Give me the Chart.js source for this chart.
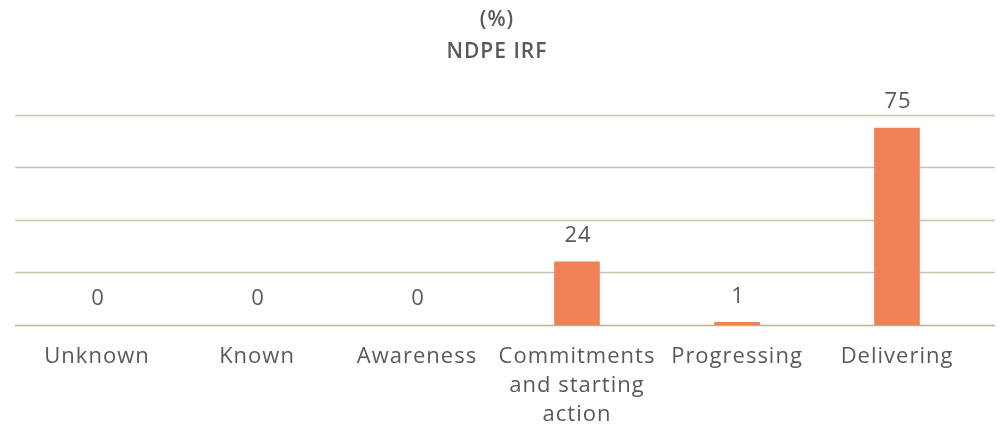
<!DOCTYPE html>
<html>
<head>
<meta charset="utf-8">
<script src="https://cdn.jsdelivr.net/npm/chart.js@4"></script>
<style>
  html, body { margin: 0; padding: 0; background: #fff; }
  #wrap { width: 1000px; height: 425px; }
</style>
</head>
<body>
<div id="wrap"><canvas id="chart"></canvas></div>
<script>
const titleLines = ['(%)', 'NDPE IRF'];
const stages = ['Unknown', 'Known', 'Awareness', ['Commitments', 'and starting', 'action'], 'Progressing', 'Delivering'];
const shares = [0, 0, 0, 24, 1, 75];
const yTicks = [0, 20, 40, 60, 80];

const textColor = '#595959';
const gridColor = '#CDBFAB';
const fontFamily = '"Open Sans", "DejaVu Sans", sans-serif';

// slightly wider tracking for all canvas text
const tracking = {
  id: 'tracking',
  beforeDraw(chart) {
    chart.ctx.letterSpacing = '1px';
  }
};

// horizontal rules run wider than the category band, so draw them here
const ruleLines = {
  id: 'ruleLines',
  beforeDatasetsDraw(chart) {
    const ctx = chart.ctx;
    const y = chart.scales.y;
    ctx.save();
    ctx.lineWidth = 1.3;
    yTicks.forEach(v => {
      const py = Math.round(y.getPixelForValue(v)) + 0.5;
      ctx.strokeStyle = v === 0 ? '#BFAE98' : gridColor;
      ctx.beginPath();
      ctx.moveTo(15, py);
      ctx.lineTo(995, py);
      ctx.stroke();
    });
    ctx.restore();
  }
};

// value written above each bar
const valueLabels = {
  id: 'valueLabels',
  afterDatasetsDraw(chart) {
    const ctx = chart.ctx;
    const meta = chart.getDatasetMeta(0);
    ctx.save();
    ctx.fillStyle = textColor;
    ctx.font = '400 22px ' + fontFamily;
    ctx.textAlign = 'center';
    ctx.textBaseline = 'middle';
    meta.data.forEach((bar, i) => {
      ctx.fillText(String(shares[i]), bar.x + 1, bar.y - 26);
    });
    ctx.restore();
  }
};

new Chart(document.getElementById('chart'), {
  type: 'bar',
  data: {
    labels: stages,
    datasets: [{
      data: shares,
      backgroundColor: shares.map(v => v > 0 ? '#F08055' : 'rgba(0,0,0,0)'),
      barThickness: 45
    }]
  },
  options: {
    responsive: true,
    maintainAspectRatio: false,
    animation: false,
    layout: { padding: { top: 4, left: 17, right: 23, bottom: -21 } },
    plugins: {
      legend: { display: false },
      tooltip: { enabled: false },
      title: {
        display: true,
        text: titleLines,
        color: textColor,
        font: { family: fontFamily, size: 21, weight: '600', lineHeight: 1.52 },
        padding: { top: 0, bottom: 47 }
      }
    },
    scales: {
      x: {
        grid: { display: false, drawTicks: false },
        border: { display: false },
        ticks: {
          color: textColor,
          font: { family: fontFamily, size: 22, weight: '400', lineHeight: 1.32 },
          padding: 17,
          maxRotation: 0,
          autoSkip: false
        }
      },
      y: {
        display: false,
        min: 0,
        max: 80,
        grid: { display: false }
      }
    }
  },
  plugins: [tracking, ruleLines, valueLabels]
});
</script>
</body>
</html>
